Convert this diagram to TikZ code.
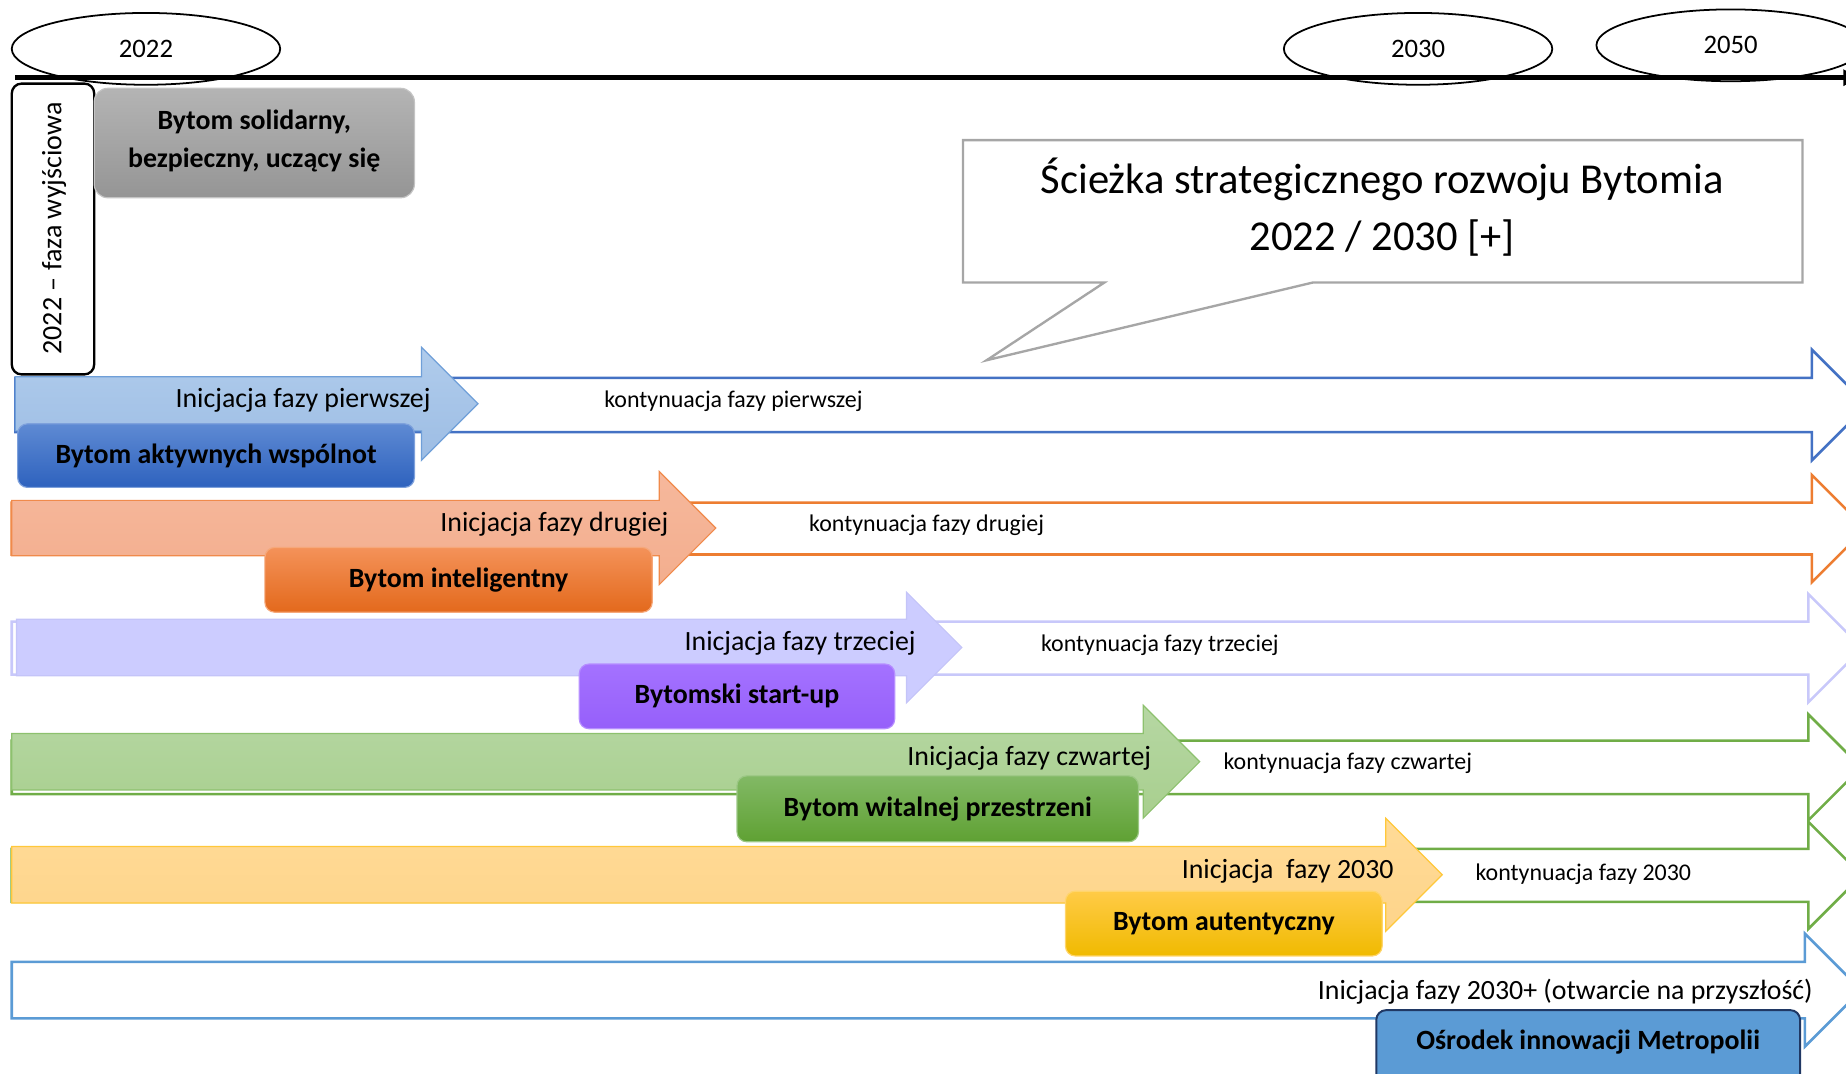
\documentclass[tikz,border=0pt]{standalone}
\usepackage{fontspec}
\setmainfont{Carlito}
\usetikzlibrary{arrows.meta,shapes.geometric,fit}

\definecolor{p1line}{HTML}{4472C4}
\definecolor{p1fillT}{HTML}{B0CCEC}
\definecolor{p1fillB}{HTML}{9DBDE4}
\definecolor{p1edge}{HTML}{6F9FD8}
\definecolor{p1boxT}{HTML}{5E8AD3}
\definecolor{p1boxB}{HTML}{2E62BE}
\definecolor{p2line}{HTML}{ED7D31}
\definecolor{p2fillT}{HTML}{F6B89C}
\definecolor{p2fillB}{HTML}{F3AE8E}
\definecolor{p2edge}{HTML}{F08A4B}
\definecolor{p2boxT}{HTML}{F49259}
\definecolor{p2boxB}{HTML}{E3691C}
\definecolor{p3line}{HTML}{C8C8FA}
\definecolor{p3fill}{HTML}{CCCCFF}
\definecolor{p3edge}{HTML}{C4C4F8}
\definecolor{p3boxT}{HTML}{A472FF}
\definecolor{p3boxB}{HTML}{965FFA}
\definecolor{p4line}{HTML}{70AD47}
\definecolor{p4fillT}{HTML}{B6D7A3}
\definecolor{p4fillB}{HTML}{A8CF8E}
\definecolor{p4edge}{HTML}{8DC16E}
\definecolor{p4boxT}{HTML}{82B965}
\definecolor{p4boxB}{HTML}{5FA133}
\definecolor{p5fillT}{HTML}{FFDB97}
\definecolor{p5fillB}{HTML}{FED48A}
\definecolor{p5edge}{HTML}{FFC83A}
\definecolor{p5boxT}{HTML}{FFCB47}
\definecolor{p5boxB}{HTML}{F0BA00}
\definecolor{p6line}{HTML}{5B9BD5}
\definecolor{p6box}{HTML}{5B9BD5}
\definecolor{p6boxedge}{HTML}{203864}
\definecolor{grayT}{HTML}{B4B4B4}
\definecolor{grayB}{HTML}{959595}
\definecolor{grayedge}{HTML}{C4C4C4}
\definecolor{callout}{HTML}{A6A6A6}

\newcommand\phasearrow[6]{%
  \path[#1] (#2,#4) -- (#3,#4) -- (#3,{(#4+#5)/2-#6}) -- ({#3+#6},{(#4+#5)/2})
    -- (#3,{(#4+#5)/2+#6}) -- (#3,#5) -- (#2,#5) -- cycle;}

\begin{document}
\begin{tikzpicture}[x=0.6pt,y=-0.6pt,
  yearell/.style={ellipse, draw=black, line width=0.9pt, fill=white,
    minimum width=136.8pt, minimum height=36.6pt, inner sep=0pt,
    font=\fontsize{13.6pt}{16pt}\selectfont},
  initarrow/.style={line width=0.6pt},
  contarrow/.style={line width=1.3pt, fill=white},
  labelbox/.style={rounded corners=5pt, line width=0.6pt, inner sep=0pt,
    font=\fontsize{14.2pt}{17pt}\selectfont\bfseries, text=black},
  inittext/.style={inner sep=0pt, anchor=east, yshift=-1.3pt, font=\fontsize{14.2pt}{17pt}\selectfont},
  conttext/.style={inner sep=0pt, anchor=west, yshift=-1.3pt, font=\fontsize{12.2pt}{15pt}\selectfont}
]
\useasboundingbox (0,0) rectangle (1568,912);
\clip (0,0) rectangle (1568,912);

% year ellipses
\node[yearell] (y2022) at (124,41.5) {2022};
\node[yearell] (y2030) at (1204.5,41.5) {2030};
\node[yearell] (y2050) at (1470,38.5) {2050};

% timeline
\coordinate (tlA) at (13,66);
\coordinate (tlB) at (1579,66);
\draw[line width=2.4pt, -{Triangle[length=8pt,width=8pt]}] (tlA) -- (tlB);

% initial phase box
\node[fit={(10,71) (80,318)}, inner sep=0pt, draw=black, line width=1.2pt,
  rounded corners=5pt, fill=white] (startbox) {};
\node[rotate=90, inner sep=0pt, font=\fontsize{14.3pt}{17pt}\selectfont]
  (starttext) at (46,194) {2022 – faza wyjściowa};

\node[labelbox, fit={(80,75) (352,168)}, top color=grayT, bottom color=grayB,
  draw=grayedge, rounded corners=7pt] (graybox) {};
\node[align=center, inner sep=0pt, font=\fontsize{14.2pt}{19.2pt}\selectfont\bfseries]
  (graytext) at (216,120) {Bytom solidarny,\\bezpieczny, uczący się};

% callout
\path[draw=callout, line width=1.2pt, fill=white]
  (818,119) -- (1531,119) -- (1531,240) -- (1115,240) -- (838,306) -- (938,240) -- (818,240) -- cycle;
\node[align=center, inner sep=0pt, font=\fontsize{21.7pt}{28.8pt}\selectfont]
  (title) at (1174,176) {Ścieżka strategicznego rozwoju Bytomia\\2022 / 2030 [+]};

% ---- phase 1
\phasearrow{contarrow, draw=p1line}{13}{1539}{321}{367}{47}
\phasearrow{initarrow, draw=p1edge, top color=p1fillT, bottom color=p1fillB}{13}{358}{320}{366}{48}
\node[inittext] (i1) at (366,338) {Inicjacja fazy pierwszej};
\node[conttext] (k1) at (513,339) {kontynuacja fazy pierwszej};
\node[labelbox, fit={(15,360) (352,414)}, top color=p1boxT, bottom color=p1boxB, draw=p1boxT!80!white] (b1) {};
\node[inner sep=0pt, font=\fontsize{14.2pt}{17pt}\selectfont\bfseries] (t1) at (b1.center) {Bytom aktywnych wspólnot};

% ---- phase 2
\phasearrow{contarrow, draw=p2line}{10}{1539}{427}{471}{45.5}
\phasearrow{initarrow, draw=p2edge, top color=p2fillT, bottom color=p2fillB}{10}{560}{425}{472}{48}
\node[inittext] (i2) at (568,443) {Inicjacja fazy drugiej};
\node[conttext] (k2) at (687,444) {kontynuacja fazy drugiej};
\node[labelbox, fit={(225,465) (554,520)}, top color=p2boxT, bottom color=p2boxB, draw=p2boxT!80!white] (b2) {};
\node[inner sep=0pt, font=\fontsize{14.2pt}{17pt}\selectfont\bfseries] (t2) at (b2.center) {Bytom inteligentny};

% ---- phase 3
\phasearrow{contarrow, draw=p3line}{10}{1536}{528}{573}{46}
\phasearrow{initarrow, draw=p3edge, fill=p3fill}{14}{770}{526}{574}{47}
\node[inittext] (i3) at (778,544) {Inicjacja fazy trzeciej};
\node[conttext] (k3) at (884,546) {kontynuacja fazy trzeciej};
\node[labelbox, fit={(492,564) (760,619)}, top color=p3boxT, bottom color=p3boxB, draw=p3boxT!80!white] (b3) {};
\node[inner sep=0pt, font=\fontsize{14.2pt}{17pt}\selectfont\bfseries] (t3) at (b3.center) {Bytomski start-up};

% ---- phase 4
\phasearrow{contarrow, draw=p4line}{10}{1536}{629}{674.5}{45}
\phasearrow{initarrow, draw=p4edge, top color=p4fillT, bottom color=p4fillB}{10}{971}{623}{671}{48}
\node[inittext] (i4) at (978,642) {Inicjacja fazy czwartej};
\node[conttext] (k4) at (1039,646) {kontynuacja fazy czwartej};
\node[labelbox, fit={(626,659) (967,715)}, top color=p4boxT, bottom color=p4boxB, draw=p4boxT!80!white] (b4) {};
\node[inner sep=0pt, font=\fontsize{14.2pt}{17pt}\selectfont\bfseries] (t4) at (b4.center) {Bytom witalnej przestrzeni};

% ---- phase 5
\phasearrow{contarrow, draw=p4line}{10}{1536}{721}{766}{45.5}
\phasearrow{initarrow, draw=p5edge, top color=p5fillT, bottom color=p5fillB}{10}{1177}{719}{767}{48}
\node[inittext] (i5) at (1184,738) {Inicjacja\ \ fazy 2030};
\node[conttext] (k5) at (1253,740) {kontynuacja fazy 2030};
\node[labelbox, fit={(905,757) (1174,812)}, top color=p5boxT, bottom color=p5boxB, draw=p5boxT!80!white] (b5) {};
\node[inner sep=0pt, font=\fontsize{14.2pt}{17pt}\selectfont\bfseries] (t5) at (b5.center) {Bytom autentyczny};

% ---- phase 6
\phasearrow{contarrow, draw=p6line}{10}{1533}{817}{865}{48}
\node[inittext] (i6) at (1540,840) {Inicjacja fazy 2030+ (otwarcie na przyszłość)};
\node[labelbox, fit={(1169,858) (1529,935)}, fill=p6box, draw=p6boxedge, line width=1pt] (b6) {};
\node[inner sep=0pt, font=\fontsize{14.2pt}{17pt}\selectfont\bfseries] (t6) at (1349,885) {Ośrodek innowacji Metropolii};
\end{tikzpicture}
\end{document}
